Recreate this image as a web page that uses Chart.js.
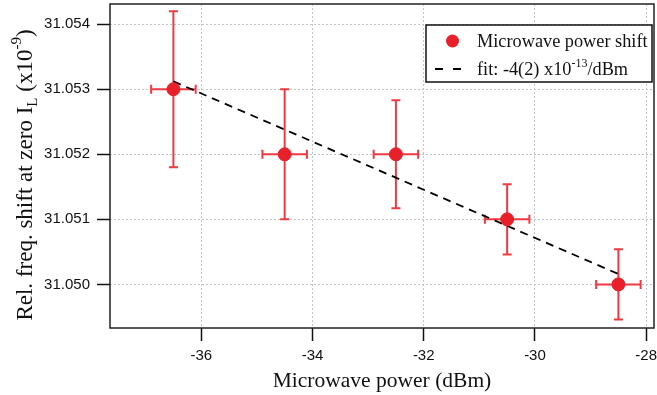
<!DOCTYPE html>
<html lang="en">
<head>
<meta charset="UTF-8">
<title>Microwave power shift</title>
<script src="https://cdn.jsdelivr.net/npm/chart.js"></script>
<style>
  body { margin: 0; padding: 0; background: #fff; }
  #wrap { width: 657px; height: 395px; }
</style>
</head>
<body>
<div id="wrap"><canvas id="chart"></canvas></div>
<script>
// data (y in units of 1e-9)
const powerX = [-36.5, -34.5, -32.5, -30.5, -28.5];
const shiftY = [31.053, 31.052, 31.052, 31.051, 31.050];
const errX = [0.4, 0.4, 0.4, 0.4, 0.4];
const errY = [0.0012, 0.001, 0.00083, 0.00054, 0.00054];

// linear fit, end points
const fitX = [-36.5, -28.5];
const fitY = [31.05312, 31.05016];

const xTicks = [-36, -34, -32, -30, -28];
const yTicks = [31.050, 31.051, 31.052, 31.053, 31.054];

const RED = '#e8202a';
const BAR_RED = '#ee3a40';
const SERIF = '"Liberation Serif", "Times New Roman", serif';
const SANS = '"Liberation Sans", Arial, sans-serif';

// draws text made of pieces with different size / vertical shift
function richWidth(ctx, parts) {
    let w = 0;
    parts.forEach(p => {
        ctx.font = p.s + 'px ' + SERIF;
        w += ctx.measureText(p.t).width;
    });
    return w;
}
function drawRich(ctx, parts, x, y) {
    parts.forEach(p => {
        ctx.font = p.s + 'px ' + SERIF;
        ctx.fillText(p.t, x, y + (p.dy || 0));
        x += ctx.measureText(p.t).width;
    });
}

const errorBars = {
    id: 'errorBars',
    beforeDatasetsDraw(chart) {
        const ctx = chart.ctx;
        const xs = chart.scales.x, ys = chart.scales.y;
        const cap = 4.5;
        ctx.save();
        ctx.strokeStyle = BAR_RED;
        ctx.lineWidth = 2;
        for (let i = 0; i < powerX.length; i++) {
            const px = xs.getPixelForValue(powerX[i]);
            const py = ys.getPixelForValue(shiftY[i]);
            const x1 = xs.getPixelForValue(powerX[i] - errX[i]);
            const x2 = xs.getPixelForValue(powerX[i] + errX[i]);
            const y1 = ys.getPixelForValue(shiftY[i] + errY[i]);
            const y2 = ys.getPixelForValue(shiftY[i] - errY[i]);
            ctx.beginPath();
            ctx.moveTo(px, y1); ctx.lineTo(px, y2);
            ctx.moveTo(px - cap, y1); ctx.lineTo(px + cap, y1);
            ctx.moveTo(px - cap, y2); ctx.lineTo(px + cap, y2);
            ctx.moveTo(x1, py); ctx.lineTo(x2, py);
            ctx.moveTo(x1, py - cap); ctx.lineTo(x1, py + cap);
            ctx.moveTo(x2, py - cap); ctx.lineTo(x2, py + cap);
            ctx.stroke();
        }
        // plot frame
        const a = chart.chartArea;
        ctx.strokeStyle = '#222';
        ctx.lineWidth = 1.5;
        ctx.strokeRect(a.left, a.top, a.right - a.left, a.bottom - a.top);
        ctx.restore();
    }
};

const decorations = {
    id: 'decorations',
    afterDraw(chart) {
        const ctx = chart.ctx;
        const a = chart.chartArea;
        ctx.save();
        ctx.fillStyle = '#111';
        ctx.textBaseline = 'alphabetic';

        // x title
        ctx.font = '21.5px ' + SERIF;
        ctx.textAlign = 'center';
        ctx.fillText('Microwave power (dBm)', (a.left + a.right) / 2, 387);

        // y title, rotated
        ctx.textAlign = 'left';
        const yParts = [
            { t: 'Rel. freq. shift at zero I', s: 23 },
            { t: 'L', s: 15, dy: 5 },
            { t: ' (x10', s: 23 },
            { t: '-9', s: 15, dy: -11 },
            { t: ')', s: 23 }
        ];
        const yw = richWidth(ctx, yParts);
        ctx.save();
        ctx.translate(32, 175);
        ctx.rotate(-Math.PI / 2);
        drawRich(ctx, yParts, -yw / 2, 0);
        ctx.restore();

        // legend
        const lx = 426, ly = 25, lw = 226, lh = 57;
        ctx.fillStyle = '#fff';
        ctx.fillRect(lx, ly, lw, lh);
        ctx.strokeStyle = '#111';
        ctx.lineWidth = 1.5;
        ctx.strokeRect(lx, ly, lw, lh);

        ctx.fillStyle = RED;
        ctx.beginPath();
        ctx.arc(452.5, 41, 6.5, 0, Math.PI * 2);
        ctx.fill();

        ctx.strokeStyle = '#000';
        ctx.lineWidth = 2;
        ctx.beginPath();
        ctx.moveTo(435, 69); ctx.lineTo(443, 69);
        ctx.moveTo(453, 69); ctx.lineTo(461, 69);
        ctx.stroke();

        ctx.fillStyle = '#111';
        drawRich(ctx, [{ t: 'Microwave power shift', s: 18.3 }], 477, 47);
        drawRich(ctx, [
            { t: 'fit: -4(2) x10', s: 18.3 },
            { t: '-13', s: 12, dy: -8 },
            { t: '/dBm', s: 18.3 }
        ], 477, 75);
        ctx.restore();
    }
};

// drop the half-label padding Chart.js adds at the scale ends
function noEndPadding(s) {
    s.paddingTop = 0;
    s.paddingBottom = 0;
    s.paddingLeft = 0;
    s.paddingRight = 0;
}

const ctx = document.getElementById('chart').getContext('2d');
new Chart(ctx, {
    type: 'scatter',
    data: {
        datasets: [
            {
                label: 'Microwave power shift',
                data: powerX.map((x, i) => ({ x: x, y: shiftY[i] })),
                backgroundColor: RED,
                borderColor: RED,
                pointRadius: 6.5,
                pointHoverRadius: 6.5,
                order: 0
            },
            {
                type: 'line',
                label: 'fit',
                data: fitX.map((x, i) => ({ x: x, y: fitY[i] })),
                borderColor: '#000',
                borderWidth: 1.8,
                borderDash: [8, 6],
                pointRadius: 0,
                fill: false,
                order: 1
            }
        ]
    },
    options: {
        responsive: true,
        maintainAspectRatio: false,
        animation: false,
        layout: { autoPadding: false, padding: { top: 4, right: 3, left: 0, bottom: 0 } },
        plugins: {
            legend: { display: false },
            tooltip: { enabled: false }
        },
        scales: {
            x: {
                type: 'linear',
                min: -37.64,
                max: -27.86,
                afterFit: s => { s.height = 67; noEndPadding(s); },
                afterBuildTicks: s => { s.ticks = xTicks.map(v => ({ value: v })); },
                grid: {
                    color: '#c4c4c4',
                    lineWidth: 1,
                    tickColor: '#111',
                    tickWidth: 1.5,
                    tickLength: 13
                },
                border: { display: false, dash: [2, 2] },
                ticks: {
                    color: '#111',
                    font: { family: SANS, size: 15 },
                    padding: 6,
                    maxRotation: 0,
                    callback: v => String(v)
                }
            },
            y: {
                type: 'linear',
                min: 31.04933,
                max: 31.05431,
                afterFit: s => { s.width = 110; noEndPadding(s); },
                afterBuildTicks: s => { s.ticks = yTicks.map(v => ({ value: v })); },
                grid: {
                    color: '#c4c4c4',
                    lineWidth: 1,
                    tickColor: '#111',
                    tickWidth: 1.5,
                    tickLength: 13
                },
                border: { display: false, dash: [2, 2] },
                ticks: {
                    color: '#111',
                    font: { family: SANS, size: 15 },
                    padding: 7,
                    callback: v => Number(v).toFixed(3)
                }
            }
        }
    },
    plugins: [errorBars, decorations]
});
</script>
</body>
</html>
